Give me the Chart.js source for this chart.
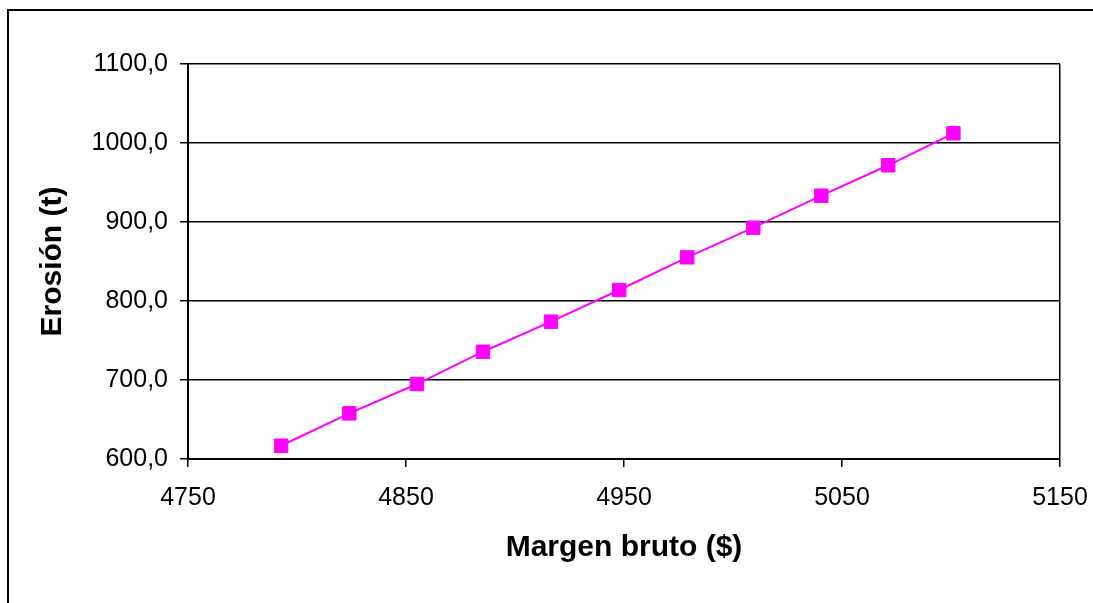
<!DOCTYPE html>
<html>
<head>
<meta charset="utf-8">
<script src="https://cdn.jsdelivr.net/npm/chart.js@4"></script>
<style>
  html, body { margin: 0; padding: 0; background: #fff; overflow: hidden; }
  #frame { position: absolute; left: 7px; top: 9px; width: 2000px; height: 2000px; border: 2px solid #000; }
  #wrap { position: absolute; left: 0; top: 0; width: 1093px; height: 603px; }
</style>
</head>
<body>
<div id="frame"></div>
<div id="wrap"><canvas id="myChart"></canvas></div>
<script>
// Margen bruto ($) vs. erosión (t)
const margenBruto = [4792.7, 4824.0, 4855.0, 4885.3, 4916.5, 4947.8, 4979.0, 5009.3, 5040.5, 5071.2, 5101.1];
const erosion = [616.8, 657.8, 694.9, 735.8, 773.8, 813.9, 855.3, 892.8, 933.3, 971.8, 1012.3];
const xTicks = [4750, 4850, 4950, 5050, 5150];
const yTicks = [600, 700, 800, 900, 1000, 1100];

const points = margenBruto.map((m, i) => ({x: m, y: erosion[i]}));
const fontFamily = '"Liberation Sans", Arial, sans-serif';
const ctx = document.getElementById("myChart");

Chart.defaults.font.family = fontFamily;
Chart.defaults.color = "#000";

new Chart(ctx, {
  type: "scatter",
  data: {
    datasets: [{
      data: points,
      showLine: true,
      borderColor: "#ff00ff",
      borderWidth: 2,
      pointStyle: "rect",
      pointRadius: 9.5,
      pointBorderWidth: 1,
      pointBackgroundColor: "#ff00ff",
      pointBorderColor: "#ff00ff"
    }]
  },
  options: {
    responsive: true,
    maintainAspectRatio: false,
    animation: false,
    layout: { padding: { left: 20, top: 64, right: 33, bottom: 20 } },
    plugins: { legend: { display: false }, tooltip: { enabled: false } },
    scales: {
      x: {
        type: "linear",
        min: xTicks[0],
        max: xTicks[xTicks.length - 1],
        afterBuildTicks: scale => { scale.ticks = xTicks.map(v => ({value: v})); },
        afterFit: scale => {
          scale.height = 124;
          // keep the plot edge where the layout padding puts it
          scale.paddingLeft = 0;
          scale.paddingRight = 0;
        },
        border: { color: "#000", width: 2 },
        grid: {
          // only the right edge of the plot is drawn as a vertical line
          color: c => (c.tick && c.tick.value === xTicks[xTicks.length - 1]) ? "#000" : "rgba(0,0,0,0)",
          lineWidth: 1.5,
          tickColor: "#000",
          tickLength: 8,
          tickWidth: 1.5
        },
        ticks: {
          font: { size: 25 },
          padding: 16,
          maxRotation: 0,
          color: "#000",
          callback: v => String(v)
        },
        title: {
          display: true,
          text: "Margen bruto ($)",
          font: { size: 30, weight: "bold" },
          color: "#000",
          padding: { top: 0, bottom: 17 }
        }
      },
      y: {
        type: "linear",
        min: yTicks[0],
        max: yTicks[yTicks.length - 1],
        afterBuildTicks: scale => { scale.ticks = yTicks.map(v => ({value: v})); },
        afterFit: scale => { scale.width = 168; },
        border: { color: "#000", width: 2 },
        grid: { color: "#000", lineWidth: 1.5, tickColor: "#000", tickLength: 8, tickWidth: 1.5 },
        ticks: {
          font: { size: 25 },
          padding: 12,
          color: "#000",
          callback: v => v.toFixed(1).replace(".", ",")
        },
        title: {
          display: true,
          text: "Erosión (t)",
          font: { size: 30, weight: "bold" },
          color: "#000",
          padding: { top: 15, bottom: 0 }
        }
      }
    }
  }
});
</script>
</body>
</html>
